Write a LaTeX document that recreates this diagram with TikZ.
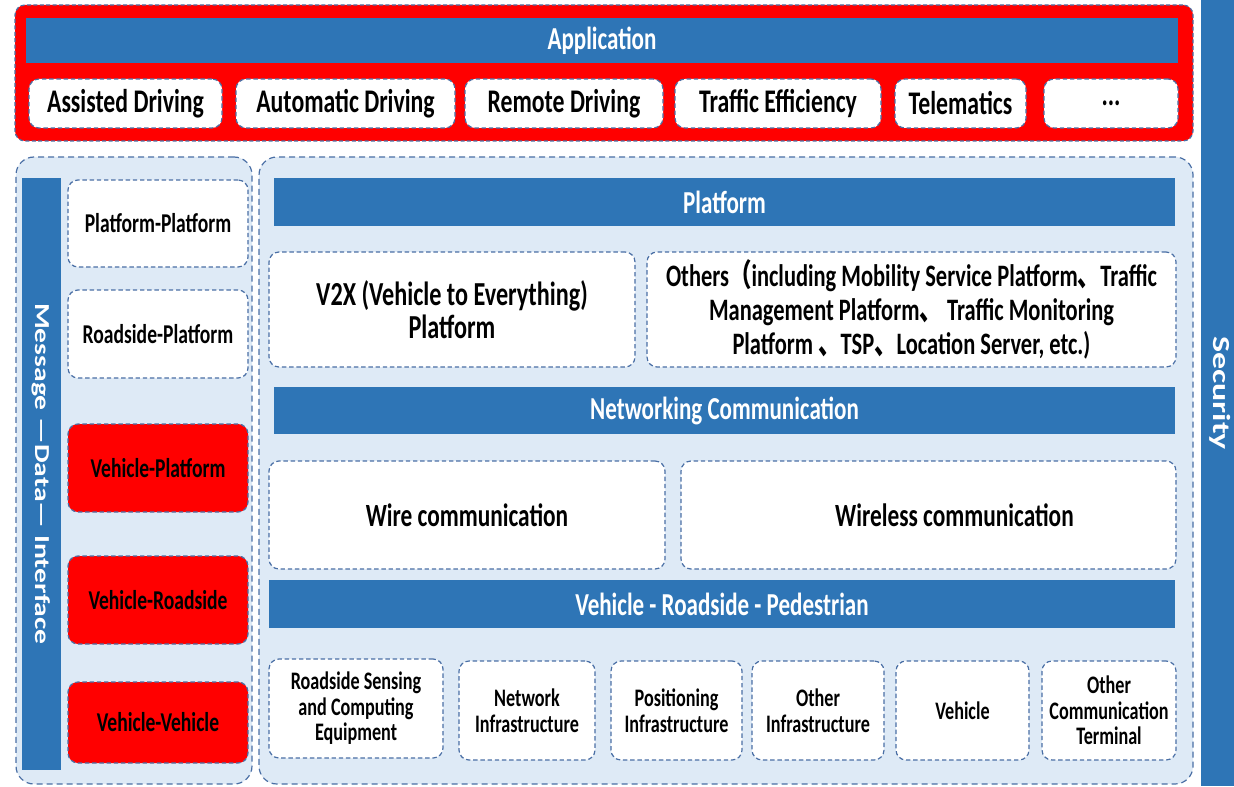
\documentclass[tikz,border=0pt]{standalone}
\usepackage{fontspec}
\setmainfont{Carlito}[FakeStretch=0.72]
\newfontfamily\rotfont{Carlito}
\newfontfamily\cjk{Noto Sans CJK SC}[FakeStretch=0.72]
\definecolor{barblue}{HTML}{2E75B6}
\definecolor{panelfill}{HTML}{DEEAF6}
\definecolor{bord}{HTML}{4A6FA5}
\definecolor{alert}{HTML}{FF0000}
\newcommand{\fs}[2]{\fontsize{#1pt}{#2pt}\selectfont}
\newcommand{\dun}{{\cjk 、}}
% \boxnode{style}{name}{x1}{y1}{x2}{y2}{text}: a node spanning two pixel corners
\newcommand{\boxnode}[7]{%
  \node[#1, minimum width={0.5pt*(#5-#3)}, minimum height={0.5pt*(#6-#4)}]
    (#2) at ({(#3+#5)/2},{(#4+#6)/2}) {#7};}
\tikzset{
  bar/.style={fill=barblue, draw=none, text=white, inner sep=0pt,
    font=\bfseries\fs{16}{19}},
  wbox/.style={fill=white, draw=bord, dash pattern=on 2.2pt off 1.4pt,
    line width=0.6pt, rounded corners=5pt, inner sep=0pt, align=center},
  rbox/.style={wbox, fill=alert},
  panelbox/.style={fill=panelfill, draw=bord, dash pattern=on 3pt off 2pt,
    line width=0.6pt, rounded corners=9pt, inner sep=0pt},
  appframe/.style={fill=alert, draw=bord, dash pattern=on 2pt off 1.2pt,
    line width=0.6pt, rounded corners=5pt, inner sep=0pt},
  appitem/.style={wbox, font=\bfseries\fs{16.5}{19}},
  iface/.style={font=\bfseries\fs{13.6}{16}},
  bigitem/.style={wbox, font=\bfseries\fs{16.2}{16.5}},
  otheritem/.style={wbox, font=\bfseries\fs{15.6}{17}},
  smallitem/.style={wbox, font=\bfseries\fs{12.6}{12.8}},
  vtext/.style={rotate=-90, text=white, inner sep=0pt}
}
\begin{document}
\begin{tikzpicture}[x=0.5pt, y=-0.5pt]
\useasboundingbox (0,0) rectangle (1234,786);
\fill[white] (0,0) rectangle (1234,786);

% security column
\boxnode{bar}{sec}{1201}{0}{1234}{786}{}
\node[vtext] at ([xshift=1.5pt]sec.center)
  {\scalebox{1}[0.72]{\rotfont\bfseries\fs{17}{20}Security}};

% application layer
\boxnode{appframe}{appfr}{15}{5}{1193}{141}{}
\boxnode{bar}{app}{26}{18}{1178}{63}{Application}
\boxnode{appitem}{a1}{29}{79}{222}{128}{Assisted Driving}
\boxnode{appitem}{a2}{236}{79}{455}{128}{Automatic Driving}
\boxnode{appitem}{a3}{465}{79}{663}{128}{Remote Driving}
\boxnode{appitem}{a4}{675}{79}{881}{128}{Traffic Efficiency}
\boxnode{appitem}{a5}{895}{79}{1026}{128}{Telematics}
\boxnode{appitem}{a6}{1044}{79}{1178}{128}{...}

% interface column
\boxnode{panelbox}{left}{16}{157}{252}{784}{}
\boxnode{bar}{msg}{22}{178}{61}{770}{}
\node[vtext] at (msg.center)
  {\scalebox{1}[0.72]{\rotfont\bfseries\fs{14.8}{17}Message —Data— Interface}};
\boxnode{wbox, iface}{pp}{68}{180}{248}{267}{Platform-Platform}
\boxnode{wbox, iface}{rp}{68}{290}{248}{378}{Roadside-Platform}
\boxnode{rbox, iface}{vp}{68}{424}{248}{512}{Vehicle-Platform}
\boxnode{rbox, iface}{vr}{68}{556}{248}{644}{Vehicle-Roadside}
\boxnode{rbox, iface}{vv}{68}{682}{248}{763}{Vehicle-Vehicle}

% platform, networking and terminal layers
\boxnode{panelbox}{right}{259}{157}{1193}{784}{}
\boxnode{bar}{plat}{274}{178}{1175}{226}{Platform}
\boxnode{bigitem, font=\bfseries\fs{16.8}{16.5}}{v2x}{269}{252}{635}{367}{V2X (Vehicle to Everything)\\Platform}
\boxnode{otheritem}{others}{647}{252}{1176}{367}{Others{\cjk （}including Mobility Service Platform\dun Traffic\\
   Management Platform\dun\ Traffic Monitoring\\
   Platform \dun TSP\dun Location Server, etc.)}
\boxnode{bar}{net}{274}{387}{1175}{434}{Networking Communication}
\boxnode{bigitem}{wire}{269}{461}{665}{569}{Wire communication}
\boxnode{bigitem}{wless}{681}{461}{1176}{569}{\hspace*{26pt}Wireless communication}
\boxnode{bar}{vrp}{269}{580}{1175}{628}{Vehicle - Roadside - Pedestrian}
\boxnode{smallitem}{b1}{269}{659}{443}{758}{Roadside Sensing\\and Computing\\Equipment}
\boxnode{smallitem}{b2}{459}{661}{595}{760}{Network\\Infrastructure}
\boxnode{smallitem}{b3}{611}{661}{742}{760}{Positioning\\Infrastructure}
\boxnode{smallitem}{b4}{752}{661}{884}{760}{Other\\Infrastructure}
\boxnode{smallitem}{b5}{896}{661}{1029}{760}{Vehicle}
\boxnode{smallitem}{b6}{1042}{661}{1176}{760}{Other\\Communication\\Terminal}
\end{tikzpicture}
\end{document}
